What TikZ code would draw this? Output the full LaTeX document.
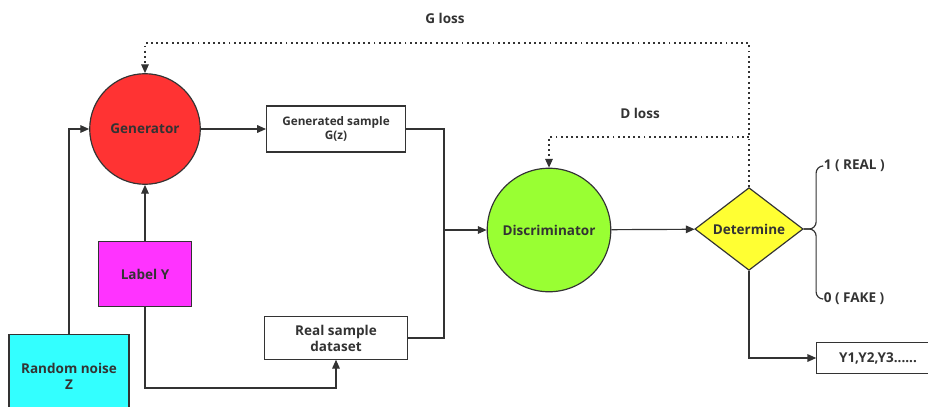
\documentclass[tikz,border=0pt]{standalone}
\usepackage{fontspec}
\setmainfont{Open Sans}
\usepackage{tikz}
\usetikzlibrary{positioning,arrows.meta,shapes.geometric}

\definecolor{genred}{HTML}{FF3333}
\definecolor{discgreen}{HTML}{99FF33}
\definecolor{labelpink}{HTML}{FF33FF}
\definecolor{noisecyan}{HTML}{33FFFF}
\definecolor{detyellow}{HTML}{FFFF33}
\definecolor{ink}{HTML}{333333}

\begin{document}
\begin{tikzpicture}[x=0.85pt,y=-0.85pt,->,>={Triangle[length=7.5pt,width=6.5pt]},line width=1pt,color=ink,font=\bfseries\fontsize{11.5}{13.5}\selectfont]
  \tikzstyle{unit}=[circle,draw,inner sep=0pt,align=center]
  \tikzstyle{block}=[rectangle,draw,inner sep=2pt,align=center]
  \tikzstyle{loss}=[dash pattern=on 1.6pt off 2.8pt]

  \path[use as bounding box,clip] (0,0) rectangle (928,407);

  \node[unit,fill=genred,minimum size=94pt] (gen) at (145,129) {Generator};
  \node[unit,fill=discgreen,minimum size=105pt] (disc) at (549,230) {Discriminator};
  \node[diamond,draw,fill=detyellow,minimum width=92pt,minimum height=63pt,inner sep=0pt] (det) at (749,229) {Determine};

  \node[block,minimum width=118pt,minimum height=39pt,font=\bfseries\fontsize{10}{11.5}\selectfont] (gsample) at (336,129) {Generated sample\\G(z)};
  \node[block,minimum width=122pt,minimum height=36pt] (rsample) at (336,338) {Real sample\\dataset};
  \node[block,fill=labelpink,minimum width=79pt,minimum height=55pt] (label) at (145,274) {Label Y};
  \node[block,fill=noisecyan,minimum width=102pt,minimum height=70pt] (noise) at (69,376) {Random noise\\Z};
  \node[block,minimum width=104pt,minimum height=27pt] (ylist) at (878,358) {Y1,Y2,Y3......};

  \node[inner sep=1pt,anchor=west] (real) at (822,166) {1 ( REAL )};
  \node[inner sep=1pt,anchor=west] (fake) at (822,299) {0 ( FAKE )};
  \node (gloss) at (445,18) {G loss};
  \node (dloss) at (640,113) {D loss};

  \coordinate (join) at (444,230);
  \coordinate (bend) at (145,388);
  \coordinate (gcorner) at (749,43);
  \coordinate (dcorner) at (749,137);

  \draw (noise.north) |- (gen.west);
  \draw (label.north) -- (gen.south);
  \draw (gen) -- (gsample);
  \draw[-] (gsample.east) -| (join);
  \draw[-] (rsample.east) -| (join);
  \draw (join) -- (disc.west);
  \draw (label.south) -- (bend) -| (rsample.south);
  \draw (disc) -- (det);
  \draw (det.south) |- (ylist.west);

  \draw[-,rounded corners=6pt] (det.east) -| ([xshift=-5pt]real.west) -- (real.west);
  \draw[-,rounded corners=6pt] (det.east) -| ([xshift=-5pt]fake.west) -- (fake.west);

  \draw[loss] (det.north) -- (gcorner) -| (gen.north);
  \draw[loss] (dcorner) -| (disc.north);
\end{tikzpicture}
\end{document}
